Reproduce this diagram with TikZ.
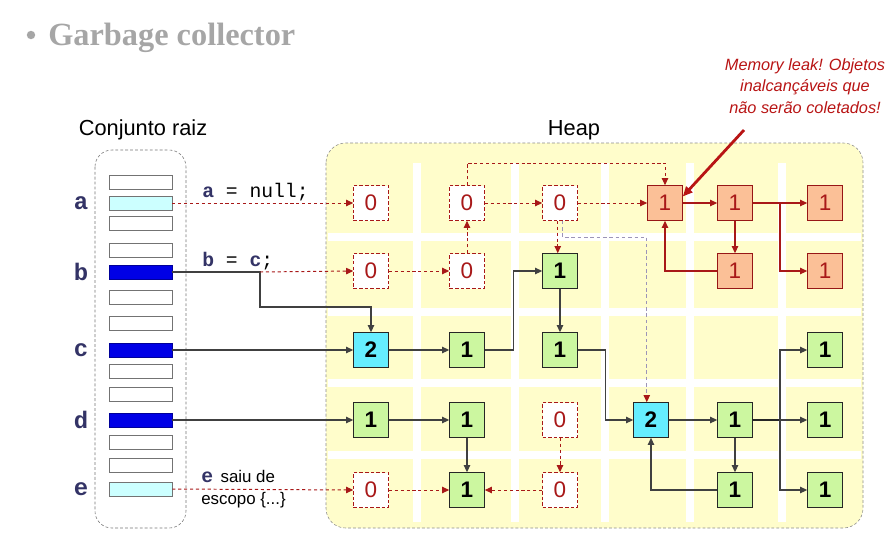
\documentclass[tikz,border=0pt]{standalone}
\usepackage{fontspec}
\setmainfont{Liberation Sans}
\setmonofont{Liberation Mono}
\newfontfamily\titlefont{Liberation Serif}
\usepackage{tikz}
\usetikzlibrary{arrows.meta}

\definecolor{heapbg}{HTML}{FFFDCB}
\definecolor{livefill}{HTML}{CCF7A0}
\definecolor{rootfill}{HTML}{66EEFF}
\definecolor{leakfill}{HTML}{FBC097}
\definecolor{deadred}{HTML}{A81818}
\definecolor{notered}{HTML}{B81414}
\definecolor{varnavy}{HTML}{333366}
\definecolor{slotblue}{HTML}{0000E6}
\definecolor{slotcyan}{HTML}{CCFFFF}
\definecolor{titlegray}{HTML}{A6A6A6}
\definecolor{faintline}{HTML}{9C94B8}

\begin{document}
\begin{tikzpicture}[x=0.025cm, y=-0.025cm,
    obj/.style={draw=black!85, minimum size=0.875cm, inner sep=0pt, font=\fontsize{16}{16}\selectfont\bfseries},
    liveobj/.style={obj, fill=livefill},
    rootobj/.style={obj, fill=rootfill},
    deadobj/.style={obj, draw=deadred, dash pattern=on 2.5pt off 1.5pt, fill=white, text=deadred, font=\fontsize{16}{16}\selectfont},
    leakobj/.style={obj, draw=deadred!90!black, fill=leakfill, text=deadred, font=\fontsize{16}{16}\selectfont},
    slot/.style={draw=black!55, fill=white, minimum width=1.575cm, minimum height=0.35cm, inner sep=0pt},
    varlbl/.style={font=\ttfamily\bfseries\fontsize{17}{17}\selectfont, text=varnavy},
    ref/.style={draw=black!75, line width=0.9pt, -{Triangle[length=5pt,width=4.5pt]}},
    gone/.style={draw=deadred, line width=0.7pt, dash pattern=on 2.2pt off 2pt, -{Triangle[length=5pt,width=4.5pt]}},
    faint/.style={draw=faintline, line width=0.7pt, dash pattern=on 2.5pt off 2pt, -{Triangle[length=5pt,width=4.5pt,color=deadred]}},
    leakref/.style={draw=deadred, line width=0.8pt, -{Triangle[length=5pt,width=4.5pt]}}]
    \useasboundingbox (0,0) rectangle (896,535);

    \node[circle, fill=titlegray, inner sep=0pt, minimum size=6pt] (bullet) at (31,35) {};
    \node[anchor=base west, inner sep=0pt, text=titlegray, font=\titlefont\bfseries\fontsize{23}{27}\selectfont] (title) at (48,45) {Garbage collector};

    \node[anchor=base, font=\fontsize{15.5}{18}\selectfont] (rootlbl) at (143,135) {Conjunto raiz};
    \node[anchor=base, font=\fontsize{15.5}{18}\selectfont] (heaplbl) at (574,135) {Heap};

    \draw[black!55, dash pattern=on 2pt off 1.5pt, rounded corners=12pt] (95,150) rectangle (186,528);
    \draw[black!45, dash pattern=on 2pt off 1.5pt, fill=heapbg, rounded corners=14pt] (326,143) rectangle (863,528);
    \foreach \x in {417,515,605,690,782}
        \draw[white, line width=5pt] (\x,163) -- (\x,522);
    \foreach \y in {237,312,383,455}
        \draw[white, line width=5pt] (328,\y) -- (861,\y);

    \foreach \y in {182,223,250,297,323,371,394,442,465}
        \node[slot] at (140.5,\y) {};
    \node[slot, fill=slotcyan] (a) at (140.5,203) {};
    \node[slot, fill=slotblue, draw=blue!60!black] (b) at (140.5,272) {};
    \node[slot, fill=slotblue, draw=blue!60!black] (c) at (140.5,350) {};
    \node[slot, fill=slotblue, draw=blue!60!black] (d) at (140.5,420) {};
    \node[slot, fill=slotcyan] (e) at (140.5,489) {};
    \foreach \v/\y in {a/203, b/272, c/350, d/420, e/489}
        \node[varlbl] (lbl\v) at (81,\y) {\v};

    \node[anchor=base west, inner sep=0pt, font=\ttfamily\fontsize{14}{14}\selectfont] (anull) at (202,197) {\textcolor{varnavy}{\bfseries a} = null;};
    \node[anchor=base west, inner sep=0pt, font=\ttfamily\fontsize{14}{14}\selectfont] (bisc) at (202,266) {\textcolor{varnavy}{\bfseries b} = \textcolor{varnavy}{\bfseries c};};
    \node[anchor=north west, inner sep=0pt, align=left, font=\fontsize{12}{15.6}\selectfont] (escope) at (201,470) {\textcolor{varnavy}{\ttfamily\bfseries\fontsize{14}{14}\selectfont e}\, saiu de\\escopo \{...\}};

    \foreach \n/\x/\y in {h11/371/203, h12/467/203, h13/560/203, h21/371/271, h22/467/271, h43/560/420, h51/371/490, h53/560/490}
        \node[deadobj] (\n) at (\x,\y) {0};
    \foreach \n/\x/\y in {h23/560/271, h32/467/350, h33/560/350, h36/825/350, h41/371/420, h42/467/420, h45/735/420, h46/825/420, h52/467/490, h55/735/490, h56/825/490}
        \node[liveobj] (\n) at (\x,\y) {1};
    \node[rootobj] (h31) at (371,350) {2};
    \node[rootobj] (h44) at (651,420) {2};
    \foreach \n/\x/\y in {h14/665/203, h15/735/203, h16/825/203, h25/735/271, h26/825/271}
        \node[leakobj] (\n) at (\x,\y) {1};

    \node[anchor=north, inner sep=0pt, align=center, text=notered, font=\itshape\fontsize{11.6}{15.3}\selectfont] (leaknote) at (805,58) {Memory leak! Objetos\\inalcançáveis que\\não serão coletados!};

    \coordinate (bc) at (260,272);
    \coordinate (top) at (0,163);
    \coordinate (gap) at (0,237);
    \coordinate (fork) at (780,420);
    \coordinate (lfork) at (780,203);
    \coordinate (tip) at (744,130);

    \draw[gone] (a.east) -- (h11.west);
    \draw[ref] (b.east) -- (bc) |- (340,307) -| (h31.north);
    \draw[gone] (bc) -- (h21.west);
    \draw[ref] (c.east) -- (h31.west);
    \draw[ref] (d.east) -- (h41.west);
    \draw[gone] (e.east) -- (h51.west);

    \draw[gone] (h21) -- (h22);
    \draw[gone] (h22) -- (h12);
    \draw[gone] (h12) -- (h13);
    \draw[gone] (h12.north) -- (h12.north |- top) -| (h14.north);
    \draw[gone] (h13) -- (h14);
    \draw[gone] ([xshift=-1.6pt]h13.south) -- ([xshift=-1.6pt]h23.north);
    \draw[faint] ([xshift=1.6pt]h13.south) -- ([xshift=1.6pt]h13.south |- gap) -| ([xshift=-3pt]h44.north);
    \draw[gone] (h43) -- (h53);
    \draw[gone] (h53) -- (h52);
    \draw[gone] (h51) -- (h52);

    \draw[ref] (h31) -- (h32);
    \draw[ref] (h32.east) -- ++(29,0) |- (h23.west);
    \draw[ref] (h23) -- (h33);
    \draw[ref] (h33.east) -- ++(28,0) |- (h44.west);
    \draw[ref] (h41) -- (h42);
    \draw[ref] (h42) -- (h52);
    \draw[ref] (h44) -- (h45);
    \draw[ref] (h45) -- (h55);
    \draw[ref] (h55.west) -| (h44.south);
    \draw[black!85, line width=1.6pt] (h45.east) -- (fork);
    \draw[ref] (fork) -- (h46);
    \draw[ref] (fork) |- (h36.west);
    \draw[ref] (fork) |- (h56.west);

    \draw[leakref] (h14) -- (h15);
    \draw[leakref] (h15) -- (h16);
    \draw[leakref] (h15) -- (h25);
    \draw[leakref] (h25.west) -| (h14.south);
    \draw[leakref] (lfork) |- (h26.west);

    \draw[notered, line width=2pt, -{Triangle[length=7pt,width=6pt]}] (tip) -- ([yshift=-8pt]h14.north east);
\end{tikzpicture}
\end{document}
